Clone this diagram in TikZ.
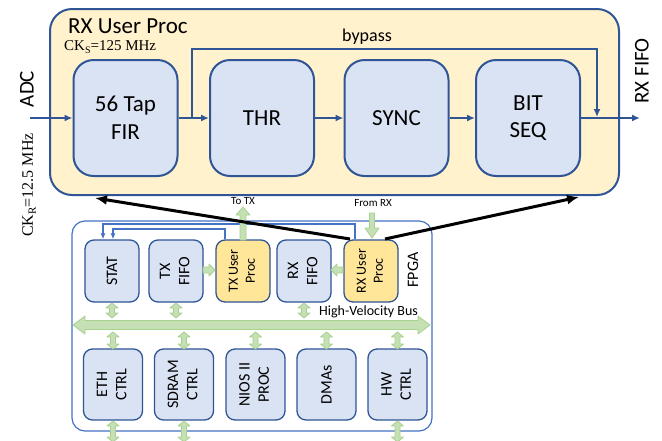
\documentclass[tikz,border=0pt]{standalone}
\usepackage{fontspec}
\setmainfont{Carlito}
\newfontfamily\seriffam{Liberation Serif}
\usetikzlibrary{arrows.meta,calc}
\definecolor{boxblue}{HTML}{DAE3F3}
\definecolor{edgeblue}{HTML}{2F5597}
\definecolor{midblue}{HTML}{4472C4}
\definecolor{paleyellow}{HTML}{FFF2CC}
\definecolor{goldfill}{HTML}{FFE699}
\definecolor{busgreen}{HTML}{C5E0B4}
\definecolor{busedge}{HTML}{A9D18E}
\newcommand\fsz[1]{\fontsize{#1}{\fpeval{#1*1.2}}\selectfont}
\newcommand\vdarr[3]{% x, top, bottom
  \draw[greenshape] (#1,#2) -- ({#1+6},{#2+5}) -- ({#1+2.5},{#2+5}) -- ({#1+2.5},{#3-5}) -- ({#1+6},{#3-5}) -- (#1,#3) -- ({#1-6},{#3-5}) -- ({#1-2.5},{#3-5}) -- ({#1-2.5},{#2+5}) -- ({#1-6},{#2+5}) -- cycle;}
\begin{document}
\begin{tikzpicture}[x=1pt,y=-1pt,
  mainbox/.style={draw=edgeblue, fill=boxblue, line width=2pt, rounded corners=20pt, minimum width=104pt, minimum height=116pt, inner sep=0pt, align=center, font=\fsz{23}},
  smallbox/.style={draw=edgeblue, fill=boxblue, line width=1.3pt, rounded corners=9pt, inner sep=0pt, align=center, font=\fsz{16}},
  upbox/.style={smallbox, minimum width=54pt, minimum height=62pt},
  lowbox/.style={smallbox, minimum width=59pt, minimum height=71pt},
  userbox/.style={upbox, fill=goldfill, font=\fsz{14}},
  sig/.style={draw=edgeblue, line width=2pt, -{Latex[length=8pt,width=7pt]}},
  ctl/.style={draw=midblue, line width=1.6pt, -{Latex[length=6pt,width=5pt]}},
  blk/.style={draw=black, line width=3pt, -{Latex[length=12pt,width=10pt]}},
  greenshape/.style={fill=busgreen, draw=busedge, line width=0.8pt, line join=round},
  lbl/.style={inner sep=0pt}
]
\useasboundingbox (0,0) rectangle (662,440);

% main RX user proc box
\node[draw=edgeblue, fill=paleyellow, line width=2pt, rounded corners=22pt, minimum width=569pt, minimum height=186pt, inner sep=0pt] (rxmain) at (334.5,102) {};
\node[lbl, anchor=base west, font=\fsz{23}] (title) at (68,33) {RX User Proc};
\node[lbl, anchor=west, font=\seriffam\fsz{15}] (cks) at (64,47) {CK\raisebox{-.4ex}{\fsz{10}S}=125 MHz};

\node[mainbox] (fir) at (125.5,118) {56 Tap\\FIR};
\node[mainbox] (thr) at (262,118) {THR};
\node[mainbox] (sync) at (396.5,118) {SYNC};
\node[mainbox] (bit) at (528,118) {BIT\\SEQ};

\coordinate (adcin) at (30,118);
\coordinate (fifoout) at (640,118);
\coordinate (bpstart) at (192,118);
\coordinate (bpend) at (597,117);
\draw[sig] (adcin) -- (fir.west);
\draw[sig] (fir.east) -- (thr.west);
\draw[sig] (thr.east) -- (sync.west);
\draw[sig] (sync.east) -- (bit.west);
\draw[sig] (bit.east) -- (fifoout);
\draw[sig] (bpstart) -- (192,49) -- (597,49) -- (bpend);

\node[lbl, font=\fsz{18}] (bypass) at (367,37) {bypass};
\node[lbl, rotate=90, font=\fsz{21}] (adc) at (27,89) {ADC};
\node[lbl, rotate=90, font=\fsz{21}] (rxfifo) at (642,71) {RX FIFO};
\node[lbl, rotate=90, font=\seriffam\fsz{16}] (ckr) at (29,185) {CK\raisebox{-.4ex}{\fsz{11}R}=12.5 MHz};

% FPGA box
\node[draw=midblue, line width=1.2pt, fill=white, rounded corners=13pt, minimum width=360pt, minimum height=210pt, inner sep=0pt] (fpga) at (252,326) {};
\node[lbl, rotate=90, font=\fsz{16}] (fpgalbl) at (413,270) {FPGA};

\node[upbox] (stat) at (112,271) {\rotatebox{90}{STAT}};
\node[upbox] (txfifo) at (176,271) {\rotatebox{90}{\begin{tabular}{@{}c@{}}TX\\FIFO\end{tabular}}};
\node[userbox] (txu) at (243,271) {\rotatebox{90}{\begin{tabular}{@{}c@{}}TX User\\Proc\end{tabular}}};
\node[upbox] (rxf) at (304,271) {\rotatebox{90}{\begin{tabular}{@{}c@{}}RX\\FIFO\end{tabular}}};
\node[userbox] (rxu) at (371,271) {\rotatebox{90}{\begin{tabular}{@{}c@{}}RX User\\Proc\end{tabular}}};

\node[lowbox] (eth) at (113,384.5) {\rotatebox{90}{\begin{tabular}{@{}c@{}}ETH\\CTRL\end{tabular}}};
\node[lowbox] (sdram) at (184,384.5) {\rotatebox{90}{\begin{tabular}{@{}c@{}}SDRAM\\CTRL\end{tabular}}};
\node[lowbox] (nios) at (255.5,384.5) {\rotatebox{90}{\begin{tabular}{@{}c@{}}NIOS II\\PROC\end{tabular}}};
\node[lowbox] (dma) at (326.5,384.5) {\rotatebox{90}{DMAs}};
\node[lowbox] (hw) at (397.5,384.5) {\rotatebox{90}{\begin{tabular}{@{}c@{}}HW\\CTRL\end{tabular}}};

% control lines to STAT
\draw[ctl] (rxu.north -| 355,0) -- (355,224) -- (103,224) -- (stat.north -| 103,0);
\draw[ctl] (txu.north -| 225,0) -- (225,229) -- (113,229) -- (stat.north -| 113,0);

% bus
\draw[greenshape] (73,325) -- (85,316) -- (85,320.5) -- (418,320.5) -- (418,316) -- (430,325) -- (418,334) -- (418,329.5) -- (85,329.5) -- (85,334) -- cycle;
\node[lbl, anchor=west, font=\fsz{14}] (buslbl) at (319,312) {High-Velocity Bus};
\vdarr{112}{303}{318}
\vdarr{176}{303}{318}
\vdarr{304}{303}{318}
\vdarr{113}{332}{349}
\vdarr{184}{332}{349}
\vdarr{255.5}{332}{349}
\vdarr{326.5}{332}{349}
\vdarr{397.5}{332}{349}
\vdarr{113}{421}{442}
\vdarr{184}{421}{442}
\vdarr{397.5}{421}{442}

% green single arrows
\draw[greenshape] (203,267) -- (209,267) -- (209,264) -- (215,270) -- (209,276) -- (209,273) -- (203,273) -- cycle;
\draw[greenshape] (343,267) -- (337,267) -- (337,264) -- (331,270) -- (337,276) -- (337,273) -- (343,273) -- cycle;
\draw[greenshape] (240,240) -- (240,215) -- (236,215) -- (243,207) -- (250,215) -- (246,215) -- (246,240) -- cycle;
\draw[greenshape] (369.5,213) -- (374.5,213) -- (374.5,228) -- (379,228) -- (372,238) -- (365,228) -- (369.5,228) -- cycle;
\node[lbl, font=\fsz{11}] (totx) at (243,201) {To TX};
\node[lbl, font=\fsz{11}] (fromrx) at (373,203) {From RX};

% black arrows
\coordinate (bl) at (95,198);
\coordinate (br) at (579,197);
\draw[blk] (350,239) -- (bl);
\draw[blk] (385,239) -- (br);
\end{tikzpicture}
\end{document}
